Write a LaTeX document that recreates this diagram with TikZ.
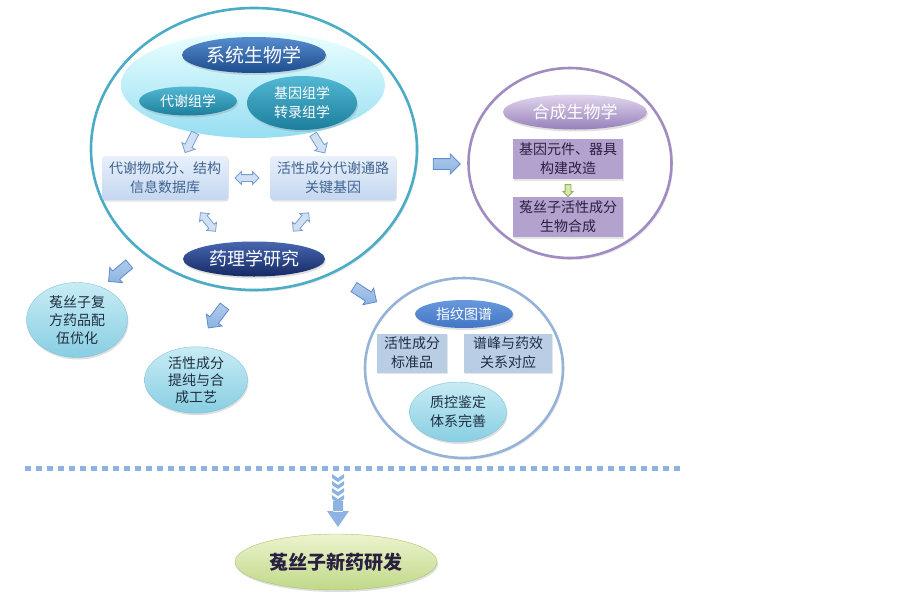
\documentclass[tikz,border=0pt]{standalone}
\usepackage{fontspec}
\setmainfont{Noto Sans CJK SC}
\usetikzlibrary{shapes.geometric,shapes.arrows,shadows}
\definecolor{ringteal}{HTML}{4BACC6}
\definecolor{ringpurple}{HTML}{A08CC0}
\definecolor{ringblue}{HTML}{95B3D7}
\definecolor{arrowblue}{HTML}{8DB3E2}
\definecolor{arrowedge}{HTML}{5F8DC9}
\definecolor{slatetext}{HTML}{41648F}
\definecolor{darktext}{HTML}{1F2F40}
\definecolor{purpletext}{HTML}{2A2040}
\tikzset{
  ring/.style={ellipse, fill=white, line width=2.6pt, inner sep=0pt,
    drop shadow={opacity=.18, shadow xshift=1.5pt, shadow yshift=-2pt}},
  oval/.style={ellipse, inner sep=0pt, align=center,
    drop shadow={opacity=.25, shadow xshift=1pt, shadow yshift=-2pt}},
  infobox/.style={rectangle, rounded corners=3pt, inner sep=0pt, align=center,
    drop shadow={opacity=.2, shadow xshift=1pt, shadow yshift=-1.5pt}},
  hollowarrow/.style={single arrow, draw=arrowedge!85, fill=arrowblue!40, line width=.8pt,
    minimum height=22pt, inner sep=3.5pt, single arrow head extend=3.5pt},
  bluearrow/.style={single arrow, draw=arrowedge, top color=arrowblue!70, bottom color=arrowblue,
    line width=.8pt, minimum height=27pt, inner sep=5pt, single arrow head extend=4.5pt},
  bothways/.style={double arrow, draw=arrowedge!85, fill=arrowblue!40, line width=.8pt,
    minimum height=24pt, inner sep=3pt, double arrow head extend=3pt},
  txt/.style={font=\fontsize{14}{19}\selectfont},
}
\begin{document}
\begin{tikzpicture}[x=1pt, y=-1pt]
  \useasboundingbox (0,0) rectangle (903,603);

  % systems biology circle
  \node[ring, draw=ringteal, minimum width=326pt, minimum height=282pt] (sysring) at (254,149) {};
  \node[ellipse, inner sep=0pt, minimum width=264pt, minimum height=106pt,
    top color=cyan!8, bottom color={rgb,255:red,150;green,222;blue,242}] (cloud) at (253,85) {};
  \node[oval, minimum width=144pt, minimum height=36pt, text=white,
    top color={rgb,255:red,86;green,140;blue,206}, bottom color={rgb,255:red,28;green,76;blue,140},
    font=\fontsize{19}{22}\selectfont] (sysbio) at (254,55) {系统生物学};
  \node[oval, minimum width=98pt, minimum height=29pt, text=white, txt,
    top color={rgb,255:red,82;green,184;blue,212}, bottom color={rgb,255:red,28;green,126;blue,156}] (metab) at (188,101) {代谢组学};
  \node[oval, minimum width=110pt, minimum height=54pt, text=white, txt,
    top color={rgb,255:red,82;green,184;blue,212}, bottom color={rgb,255:red,28;green,126;blue,156}] (genom) at (302,103) {基因组学\\转录组学};
  \node[hollowarrow, rotate=243] (dn1) at (191,141) {};
  \node[hollowarrow, rotate=-58] (dn2) at (318,142) {};
  \node[infobox, minimum width=126pt, minimum height=44pt, text=slatetext, txt,
    top color={rgb,255:red,232;green,240;blue,251}, bottom color={rgb,255:red,196;green,215;blue,240}] (database) at (165,178) {代谢物成分、结构\\信息数据库};
  \node[infobox, minimum width=126pt, minimum height=44pt, text=slatetext, txt,
    top color={rgb,255:red,232;green,240;blue,251}, bottom color={rgb,255:red,196;green,215;blue,240}] (pathway) at (333,178) {活性成分代谢通路\\关键基因};
  \node[oval, minimum width=142pt, minimum height=35pt, text=white,
    top color={rgb,255:red,72;green,102;blue,176}, bottom color={rgb,255:red,20;green,42;blue,100},
    font=\fontsize{18}{22}\selectfont] (pharma) at (254,259) {药理学研究};
  \node[bothways] (link1) at (247,178) {};
  \node[bothways, rotate=-51] (link2) at (208,222) {};
  \node[bothways, rotate=50] (link3) at (301,222) {};

  % synthetic biology circle
  \node[bluearrow] (toright) at (444,164) {};
  \node[ring, draw=ringpurple, minimum width=203pt, minimum height=190pt] (synring) at (570,163) {};
  \node[oval, minimum width=144pt, minimum height=35pt, text=white,
    top color={rgb,255:red,226;green,214;blue,238}, bottom color={rgb,255:red,150;green,128;blue,186},
    font=\fontsize{17}{20}\selectfont] (synbio) at (575,112) {合成生物学};
  \node[infobox, rounded corners=0pt, minimum width=110pt, minimum height=40pt, text=purpletext, txt,
    fill={rgb,255:red,180;green,162;blue,206}] (parts) at (568,159) {基因元件、器具\\构建改造};
  \node[single arrow, draw={rgb,255:red,140;green,176;blue,74}, fill={rgb,255:red,214;green,230;blue,180},
    line width=.8pt, minimum height=12pt, inner sep=2.5pt, single arrow head extend=2pt,
    rotate=-90] (step) at (568,189) {};
  \node[infobox, rounded corners=0pt, minimum width=110pt, minimum height=40pt, text=purpletext, txt,
    fill={rgb,255:red,180;green,162;blue,206}] (biosyn) at (568,217) {菟丝子活性成分\\生物合成};

  % pharmacology outcomes
  \node[bluearrow, rotate=220] (out1) at (121,271) {};
  \node[bluearrow, rotate=233] (out2) at (218,315) {};
  \node[bluearrow, rotate=-33] (out3) at (363,293) {};
  \node[oval, minimum width=101pt, minimum height=75pt, text=darktext,
    font=\fontsize{14}{18}\selectfont, draw={rgb,255:red,130;green,196;blue,216},
    top color={rgb,255:red,200;green,236;blue,245}, bottom color={rgb,255:red,136;green,206;blue,226}] (formula) at (77,320) {菟丝子复\\方药品配\\伍优化};
  \node[oval, minimum width=103pt, minimum height=60pt, text=darktext,
    font=\fontsize{14}{17}\selectfont, draw={rgb,255:red,130;green,196;blue,216},
    top color={rgb,255:red,200;green,236;blue,245}, bottom color={rgb,255:red,136;green,206;blue,226}] (process) at (196,380) {活性成分\\提纯与合\\成工艺};

  % fingerprint circle
  \node[ring, draw=ringblue, minimum width=198pt, minimum height=180pt] (fpring) at (464,368) {};
  \node[oval, minimum width=98pt, minimum height=28pt, text=white, txt,
    top color={rgb,255:red,104;green,152;blue,220}, bottom color={rgb,255:red,66;green,118;blue,196}] (finger) at (464,314) {指纹图谱};
  \node[infobox, rounded corners=0pt, minimum width=70pt, minimum height=39pt, text=darktext, txt,
    fill={rgb,255:red,185;green,205;blue,229}] (standard) at (412,353) {活性成分\\标准品};
  \node[infobox, rounded corners=0pt, minimum width=88pt, minimum height=39pt, text=darktext, txt,
    fill={rgb,255:red,185;green,205;blue,229}] (peaks) at (508,353) {谱峰与药效\\关系对应};
  \node[oval, minimum width=97pt, minimum height=60pt, text=darktext, txt,
    draw={rgb,255:red,130;green,196;blue,216},
    top color={rgb,255:red,200;green,236;blue,245}, bottom color={rgb,255:red,136;green,206;blue,226}] (quality) at (458,412) {质控鉴定\\体系完善};

  % divider and final goal
  \coordinate (split) at (338,468);
  \draw[arrowblue, line width=5pt, dash pattern=on 6pt off 5pt] (25,468) -- (680,468);
  \foreach \k in {0,1,2,3}
    \fill[arrowblue, shift={(split)}] (-6,6+7*\k) -- (0,10+7*\k) -- (6,6+7*\k) -- (6,10+7*\k) -- (0,14+7*\k) -- (-6,10+7*\k) -- cycle;
  \node[oval, minimum width=202pt, minimum height=56pt, text=purpletext,
    draw={rgb,255:red,170;green,196;blue,110},
    top color={rgb,255:red,236;green,244;blue,206}, bottom color={rgb,255:red,192;green,216;blue,136},
    font=\fontsize{19}{22}\selectfont\bfseries] (goal) at (336,562) {菟丝子新药研发};
  \fill[arrowblue, shift={(split)}] (-5,33) rectangle (5,44) (-11,43) -- (11,43) -- (0,59) -- cycle;
\end{tikzpicture}
\end{document}
